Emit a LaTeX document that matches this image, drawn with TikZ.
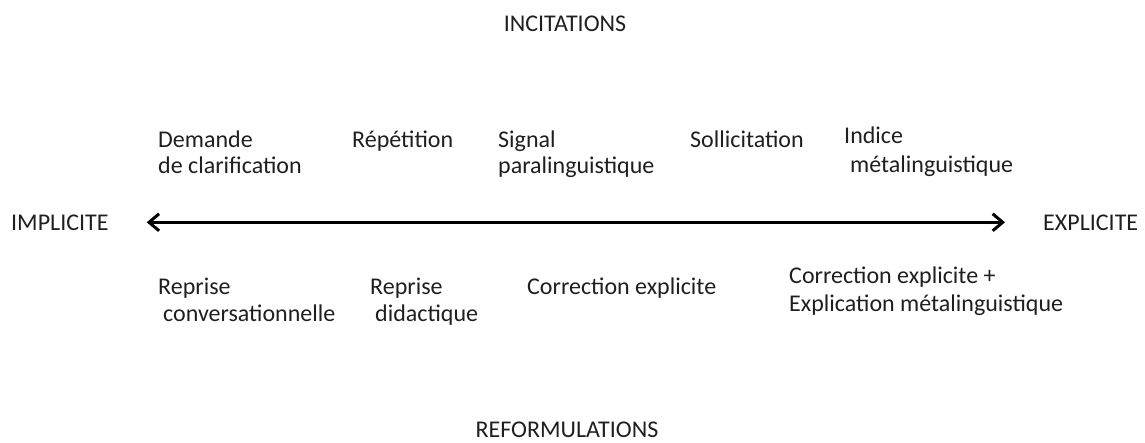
\documentclass[tikz,border=0pt]{standalone}
\usepackage{fontspec}
\setmainfont{Carlito}
\usetikzlibrary{arrows.meta}
\begin{document}
\begin{tikzpicture}[x=1pt,y=-1pt,
  lbl/.style={anchor=base west,inner sep=0pt,font=\fontsize{24}{26}\selectfont,text=black!88},
  ttl/.style={anchor=base,inner sep=0pt,font=\fontsize{24}{26}\selectfont,text=black!88},
  axis/.style={line width=3pt,{Straight Barb[length=10pt,width=17pt]}-{Straight Barb[length=10pt,width=17pt]}}]
\useasboundingbox (0,0) rectangle (1145,442);
\node[ttl] (inc) at (565,31) {INCITATIONS};
\node[ttl] (ref) at (567,437) {REFORMULATIONS};
\node[lbl] (impl) at (11,230) {IMPLICITE};
\node[lbl] (expl) at (1043,230) {EXPLICITE};
\draw[axis] (impl.east) [shorten <=38pt, shorten >=38pt] -- (expl.west);
% top row
\node[lbl] (dem1) at (158,147) {Demande};
\node[lbl] (dem2) at (158,173) {de clarification};
\node[lbl] (rep)  at (352,147) {Répétition};
\node[lbl] (sig1) at (498,147) {Signal};
\node[lbl] (sig2) at (498,173) {paralinguistique};
\node[lbl] (sol)  at (690,147) {Sollicitation};
\node[lbl] (ind1) at (844,143) {Indice};
\node[lbl] (ind2) at (850,172) {métalinguistique};
% bottom row
\node[lbl] (rc1) at (158,294) {Reprise};
\node[lbl] (rc2) at (163,321) {conversationnelle};
\node[lbl] (rd1) at (370,294) {Reprise};
\node[lbl] (rd2) at (375,321) {didactique};
\node[lbl] (ce)  at (527,294) {Correction explicite};
\node[lbl] (cm1) at (789,283) {Correction explicite +};
\node[lbl] (cm2) at (789,311) {Explication métalinguistique};
\end{tikzpicture}
\end{document}
